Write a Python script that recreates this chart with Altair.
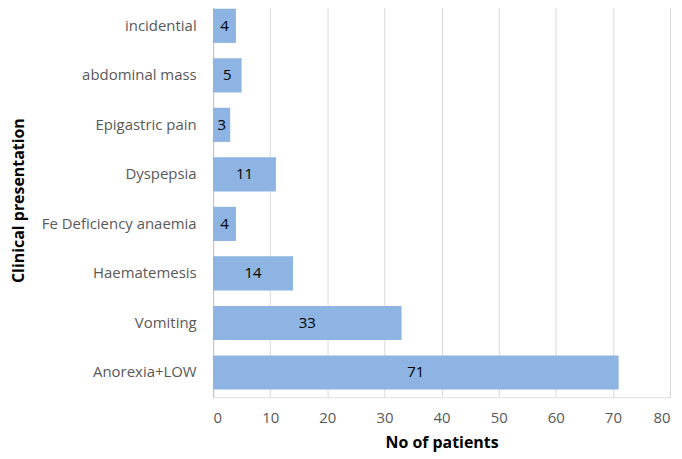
import altair as alt
import pandas as pd

categories = ["incidential", "abdominal mass", "Epigastric pain", "Dyspepsia",
              "Fe Deficiency anaemia", "Haematemesis", "Vomiting", "Anorexia+LOW"]
values = [4, 5, 3, 11, 4, 14, 33, 71]

df = pd.DataFrame({"cat": categories, "n": values})

FONT = "Open Sans"

y_enc = alt.Y("cat:N", sort=categories,
              scale=alt.Scale(paddingInner=0.31, paddingOuter=0.155),
              axis=alt.Axis(title="Clinical presentation", titleFontSize=16, titleFontWeight="bold",
                            titleColor="#000000", titleFont=FONT, titleX=-190, titleY=200,
                            titleAngle=-90, titleBaseline="alphabetic", titleAlign="center",
                            labelFont=FONT, labelFontSize=15, labelColor="#595959",
                            labelPadding=17, ticks=False, domain=True, domainColor="#bfbfbf",
                            domainWidth=1, grid=False, labelLimit=300))

x_scale = alt.Scale(domain=[0, 80], nice=False)

bars = alt.Chart(df).mark_bar(color="#8db4e2").encode(
    x=alt.X("n:Q", scale=x_scale,
            axis=alt.Axis(title="No of patients", values=list(range(0, 81, 10)),
                          titleFontSize=16, titleFontWeight="bold", titleColor="#000000",
                          titleFont=FONT, titlePadding=9,
                          labelFont=FONT, labelFontSize=15, labelColor="#595959",
                          labelPadding=13, ticks=False, domain=False,
                          grid=True, gridColor="#d9d9d9", gridWidth=1)),
    y=y_enc,
)

labels = alt.Chart(df).transform_calculate(mid="datum.n / 2").mark_text(
    font=FONT, fontSize=15, color="#000000", align="center", baseline="middle"
).encode(
    x=alt.X("mid:Q", scale=x_scale),
    y=alt.Y("cat:N", sort=categories),
    text="n:Q",
)

chart = (bars + labels).properties(
    width=459, height=398,
    autosize=alt.AutoSizeParams(type="none"),
    padding={"left": 206, "top": -8, "right": 4, "bottom": 60},
).configure_view(stroke=None).configure(background="white")

chart.save("out.html", embed_options={"renderer": "svg", "actions": False})
